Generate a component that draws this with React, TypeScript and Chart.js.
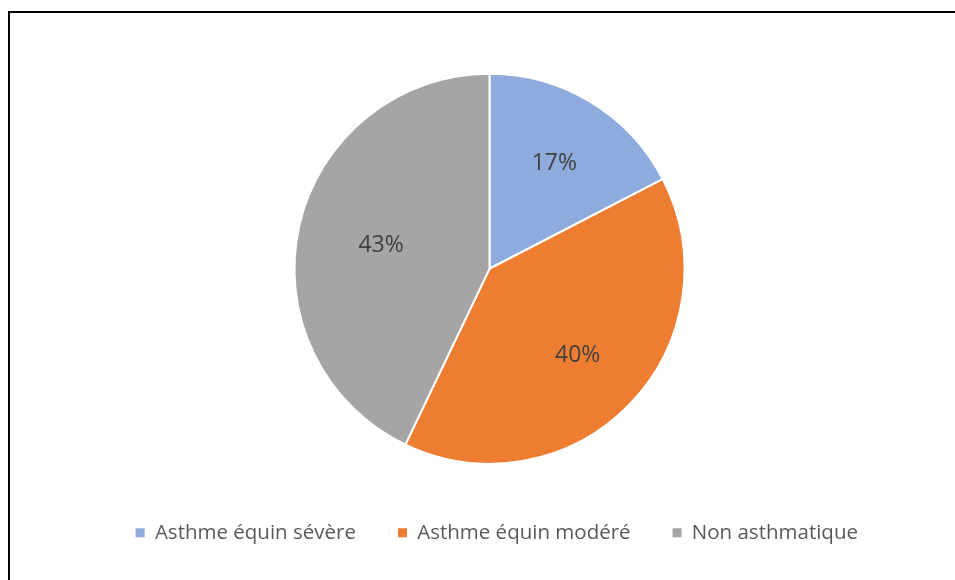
import React, { useEffect, useRef } from "react";
import { Chart, registerables } from "chart.js";

Chart.register(...registerables);

const categories = ["Asthme équin sévère", "Asthme équin modéré", "Non asthmatique"];
const values = [17.4, 39.7, 42.9];
const valueLabels = ["17%", "40%", "43%"];
const colors = ["#8FAADC", "#ED7D31", "#A5A5A5"];
const labelRadiusRatio = [0.64, 0.63, 0.57];

const pieLabels = {
  id: "pieLabels",
  afterDatasetsDraw(chart: any) {
    const ctx = chart.ctx;
    const meta = chart.getDatasetMeta(0);
    ctx.save();
    ctx.font = "23px 'Open Sans'";
    ctx.fillStyle = "#404040";
    ctx.textAlign = "center";
    ctx.textBaseline = "middle";
    meta.data.forEach((arc: any, i: number) => {
      const p = arc.getProps(["x", "y", "startAngle", "endAngle", "outerRadius"], true);
      const mid = (p.startAngle + p.endAngle) / 2;
      const r = p.outerRadius * labelRadiusRatio[i];
      ctx.fillText(valueLabels[i], p.x + Math.cos(mid) * r, p.y + Math.sin(mid) * r + 1);
    });
    ctx.restore();
  },
};

export default function App() {
  const ref = useRef<HTMLCanvasElement>(null);
  useEffect(() => {
    const baseGenerate = (Chart as any).overrides.pie.plugins.legend.labels.generateLabels;
    const chart = new Chart(ref.current!, {
      type: "pie",
      data: {
        labels: categories,
        datasets: [
          {
            data: values,
            backgroundColor: colors,
            borderColor: "#FFFFFF",
            borderWidth: 2,
            radius: 195,
          } as any,
        ],
      },
      options: {
        animation: false,
        responsive: false,
        layout: { padding: { top: 57, bottom: 27, left: 79, right: 55 } },
        plugins: {
          tooltip: { enabled: false },
          legend: {
            position: "bottom",
            align: "end",
            labels: {
              boxWidth: 9,
              boxHeight: 9,
              padding: 42,
              color: "#595959",
              font: { family: "'Open Sans'", size: 20.5 },
              generateLabels: (c: any) =>
                baseGenerate(c).map((l: any) => ({ ...l, lineWidth: 0, strokeStyle: "rgba(0,0,0,0)" })),
            },
          },
        },
      },
      plugins: [pieLabels],
    });
    return () => chart.destroy();
  }, []);
  return (
    <div>
      <canvas
        ref={ref}
        width={955}
        height={580}
        style={{ position: "absolute", left: 0, top: 0, width: 955, height: 580 }}
      />
      <div
        style={{
          position: "absolute",
          left: 8,
          top: 11,
          width: 947,
          height: 569,
          boxSizing: "border-box",
          borderTop: "2px solid #000",
          borderLeft: "2px solid #000",
          pointerEvents: "none",
        }}
      />
    </div>
  );
}
